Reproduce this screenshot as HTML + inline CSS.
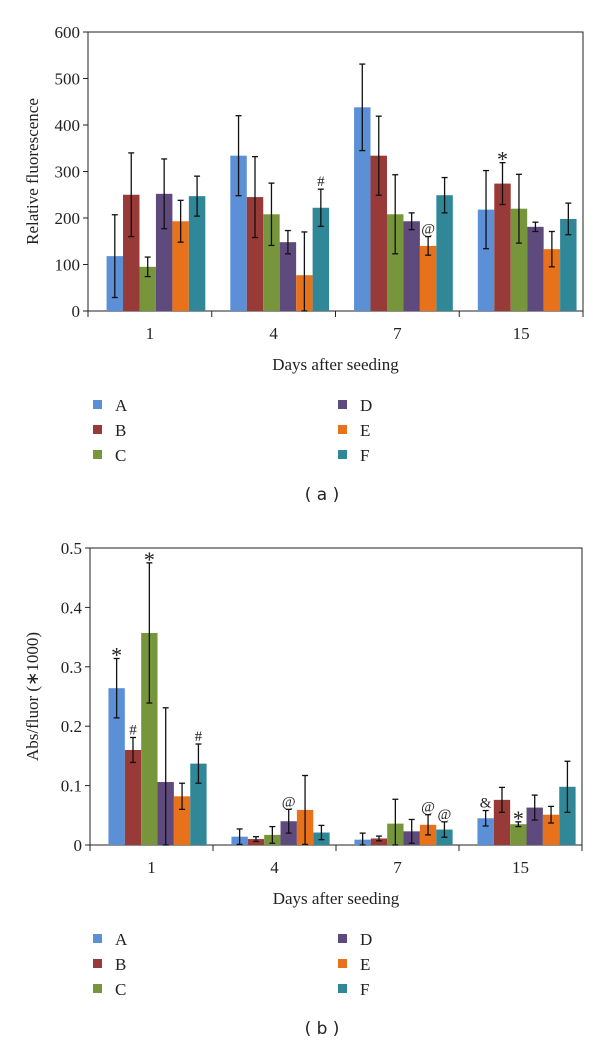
<!DOCTYPE html>
<html><head><meta charset="utf-8">
<style>
html,body{margin:0;padding:0;background:#fff;}
svg{display:block;font-family:"Liberation Serif",serif;}
</style></head>
<body>
<svg id="root" width="600" height="1051" viewBox="0 0 600 1051"></svg>
<script>
const categories = ["1","4","7","15"];
const seriesNames = ["A","B","C","D","E","F"];
const colors = ["#5b8fd6","#983a37","#77963c","#5f4a7d","#e8721c","#2f8797"];
// Chart (a) values: relative fluorescence [series][day]
const aA = [118,334,438,218];
const aB = [250,245,334,274];
const aC = [95,208,208,220];
const aD = [252,148,193,181];
const aE = [193,77,140,133];
const aF = [247,222,249,198];
const aErrA = [89,86,93,84];
const aErrB = [90,87,85,45];
const aErrC = [21,67,85,74];
const aErrD = [75,25,18,10];
const aErrE = [45,93,20,38];
const aErrF = [43,40,38,34];
const aTicks = [0,100,200,300,400,500,600];
const aMarks = [{s:5,d:1,t:"#"},{s:4,d:2,t:"@"},{s:1,d:3,t:"*"}];
// Chart (b) values: Abs/fluor
const bA = [0.264,0.014,0.009,0.045];
const bB = [0.160,0.010,0.011,0.076];
const bC = [0.357,0.017,0.036,0.035];
const bD = [0.106,0.040,0.023,0.063];
const bE = [0.082,0.059,0.034,0.051];
const bF = [0.137,0.021,0.026,0.098];
const bErrA = [0.050,0.013,0.011,0.013];
const bErrB = [0.021,0.004,0.004,0.021];
const bErrC = [0.118,0.014,0.041,0.004];
const bErrD = [0.125,0.020,0.020,0.021];
const bErrE = [0.022,0.058,0.017,0.014];
const bErrF = [0.033,0.012,0.013,0.043];
const bTicks = [0,0.1,0.2,0.3,0.4,0.5];
const bTickLabels = ["0","0.1","0.2","0.3","0.4","0.5"];
const bMarks = [{s:0,d:0,t:"*"},{s:1,d:0,t:"#"},{s:2,d:0,t:"*"},{s:5,d:0,t:"#"},{s:3,d:1,t:"@"},{s:4,d:2,t:"@"},{s:5,d:2,t:"@"},{s:0,d:3,t:"&"},{s:2,d:3,t:"*"}];

const NS="http://www.w3.org/2000/svg";
const root=document.getElementById('root');
function el(tag,attrs,parent,text){const e=document.createElementNS(NS,tag);for(const k in attrs)e.setAttribute(k,attrs[k]);if(text!==undefined)e.textContent=text;(parent||root).appendChild(e);return e;}

function drawChart(cfg){
  const g=el('g',{},root);
  
  
  const {x0,x1,yTop,yBot,max}=cfg;
  const y=v=>yBot-(v/max)*(yBot-yTop);
  const gw=(x1-x0)/categories.length;
  const bw=gw*0.133;
  const off=gw*0.15;
  const xb=(d,s)=>x0+d*gw+off+s*bw;
  const fr=el('rect',{x:x0,y:yTop,width:x1-x0,height:yBot-yTop,fill:'none',stroke:'#222','stroke-width':1},g);
  
  
  cfg.ticks.forEach((t,i)=>{
    el('line',{x1:x0-5,x2:x0,y1:y(t),y2:y(t),stroke:'#222'},g);
    const tx=el('text',{x:x0-8,y:y(t)+6,'text-anchor':'end','font-size':17,fill:'#222'},g,cfg.tickLabels[i]);
    
    
  });
  for(let d=0;d<=categories.length;d++){el('line',{x1:x0+d*gw,x2:x0+d*gw,y1:yBot,y2:yBot+6,stroke:'#222'},g);}
  categories.forEach((c,d)=>{
    const tx=el('text',{x:x0+d*gw+gw/2,y:yBot+28,'text-anchor':'middle','font-size':17,fill:'#222'},g,c);
    
    
  });
  cfg.vals.forEach((arr,s)=>{
    arr.forEach((v,d)=>{
      const r=el('rect',{x:xb(d,s),y:y(v),width:bw,height:yBot-y(v),fill:colors[s]},g);
      
      
    });
  });
  cfg.errs.forEach((arr,s)=>{
    arr.forEach((e,d)=>{
      const v=cfg.vals[s][d];const cx=xb(d,s)+bw/2;
      const lo=Math.max(0,v-e),hi=v+e;
      const eg=el('g',{stroke:'#111','stroke-width':1.3},g);
      
      
      el('line',{x1:cx,x2:cx,y1:y(hi),y2:y(lo)},eg);
      el('line',{x1:cx-3,x2:cx+3,y1:y(hi),y2:y(hi)},eg);
      el('line',{x1:cx-3,x2:cx+3,y1:y(lo),y2:y(lo)},eg);
    });
  });
  cfg.marks.forEach(m=>{
    const v=cfg.vals[m.s][m.d]+cfg.errs[m.s][m.d];
    const cx=xb(m.d,m.s)+bw/2;
    const fs=m.t==="*"?22:15;
    const tx=el('text',{x:cx,y:y(v)-(m.t==="*"?-4:3),'text-anchor':'middle','font-size':fs,fill:'#222'},g,m.t);
    
    
  });
  const yt=el('text',{x:0,y:0,transform:`translate(${cfg.ytx},${(yTop+yBot)/2}) rotate(-90)`,'text-anchor':'middle','font-size':17,fill:'#222'},g,cfg.ytitle);
  
  
  const xt=el('text',{x:(x0+x1)/2,y:yBot+59,'text-anchor':'middle','font-size':17,fill:'#222'},g,'Days after seeding');
  
  
  const lg=el('g',{},g);
  
  
  seriesNames.forEach((n,s)=>{
    const col=Math.floor(s/3),row=s%3;
    const lx=col?338:93, ly=cfg.legY+row*25;
    const it=el('g',{},lg);
    
    
    el('rect',{x:lx,y:ly-5,width:9,height:9,fill:colors[s]},it);
    el('text',{x:lx+22,y:ly+6,'font-size':17,fill:'#222'},it,n);
  });
  const cap=el('text',{x:322,y:cfg.capY,'text-anchor':'middle','font-size':17,fill:'#222','font-family':'"DejaVu Sans",sans-serif'},g,'( '+cfg.cap+' )');
  
  
}

drawChart({name:'chart-a',x0:88,x1:583,yTop:32,yBot:311,max:600,ticks:aTicks,tickLabels:aTicks.map(String),
  vals:[aA,aB,aC,aD,aE,aF],errs:[aErrA,aErrB,aErrC,aErrD,aErrE,aErrF],marks:aMarks,
  ytitle:'Relative fluorescence',ytx:38,legY:405,capY:500,cap:'a'});
drawChart({name:'chart-b',x0:90,x1:582,yTop:548,yBot:845,max:0.5,ticks:bTicks,tickLabels:bTickLabels,
  vals:[bA,bB,bC,bD,bE,bF],errs:[bErrA,bErrB,bErrC,bErrD,bErrE,bErrF],marks:bMarks,
  ytitle:'Abs/fluor (∗1000)',ytx:38,legY:939,capY:1034,cap:'b'});
</script>
</body></html>
